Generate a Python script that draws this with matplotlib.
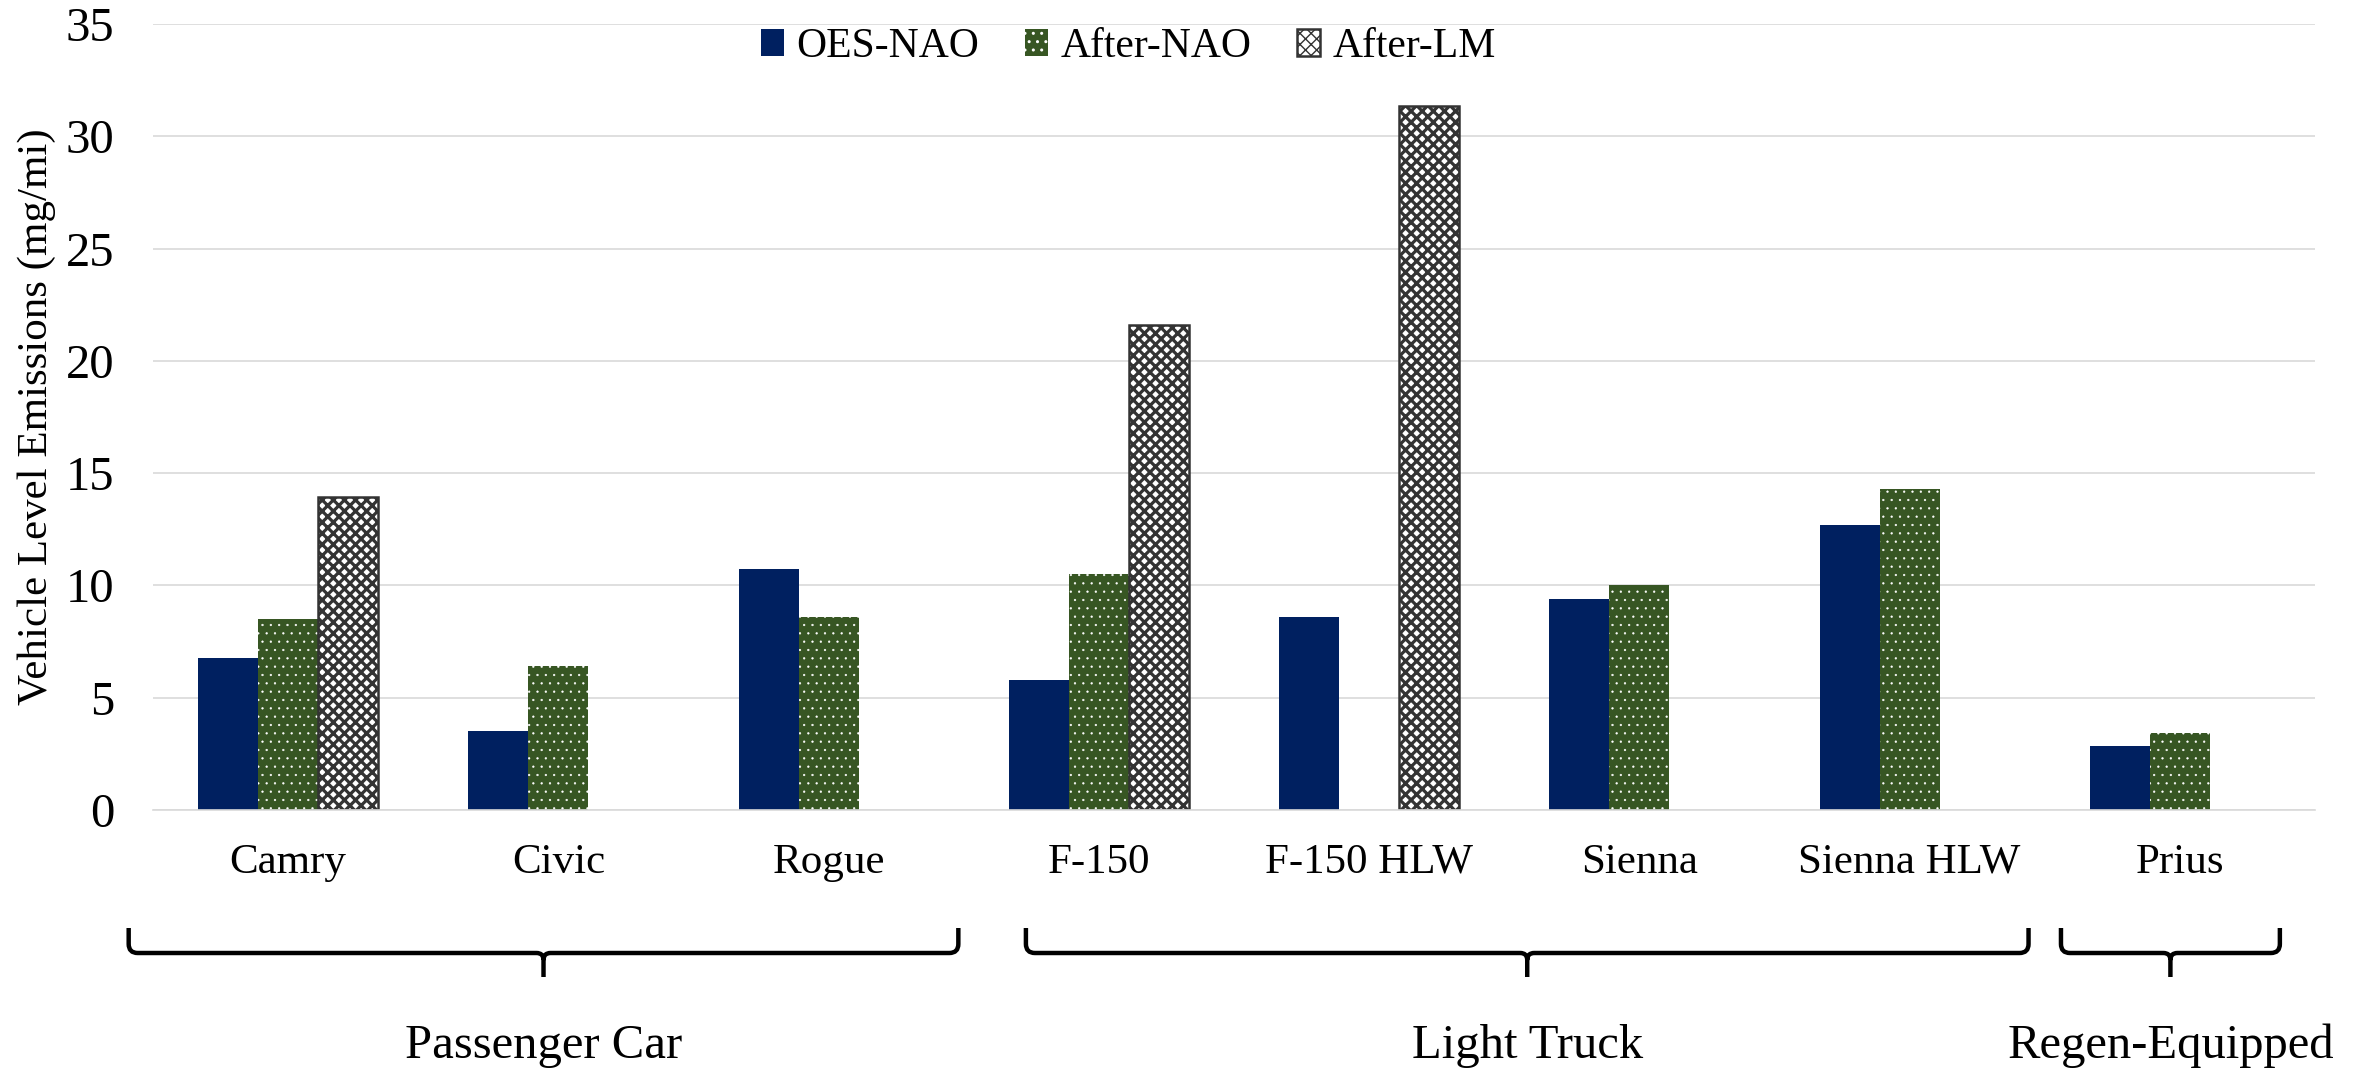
import numpy as np
import matplotlib
matplotlib.use("Agg")
import matplotlib.pyplot as plt
from matplotlib.path import Path
from matplotlib.patches import PathPatch
import matplotlib.transforms as mtransforms

# ---------------- data ----------------
categories = ["Camry", "Civic", "Rogue", "F-150", "F-150 HLW", "Sienna", "Sienna HLW", "Prius"]
oes_nao = [6.78, 3.53, 10.72, 5.77, 8.58, 9.40, 12.68, 2.87]
after_nao = [8.49, 6.41, 8.61, 10.51, np.nan, 10.02, 14.30, 3.44]
after_lm = [13.95, np.nan, np.nan, 21.60, 31.34, np.nan, np.nan, np.nan]
series_names = ["OES-NAO", "After-NAO", "After-LM"]
y_ticks = [0, 5, 10, 15, 20, 25, 30, 35]
y_label = "Vehicle Level Emissions (mg/mi)"
group_names = ["Passenger Car", "Light Truck", "Regen-Equipped"]
group_spans = [(-0.59, 2.48), (2.73, 6.44), (6.56, 7.37)]

# ---------------- style ----------------
plt.rcParams["font.family"] = ["Liberation Serif", "DejaVu Serif"]
plt.rcParams["hatch.linewidth"] = 1.0

W, H = 2356, 1069
fig = plt.figure(figsize=(W / 100, H / 100), dpi=100)
ax_left, ax_right, ax_top, ax_bottom = 153, 2315, 24, 810
fig.subplots_adjust(left=ax_left / W, right=ax_right / W,
                    bottom=1 - ax_bottom / H, top=1 - ax_top / H)
ax = fig.add_subplot(111)

x = np.arange(len(categories))
w = 1 / 4.5  # Excel gap width 150 %

b1 = ax.bar(x - w, oes_nao, w, color="#002060", linewidth=0, zorder=2)
b2 = ax.bar(x, after_nao, w, color="#375623", edgecolor="white", hatch="..",
            linewidth=0, zorder=2)
b3 = ax.bar(x + w, after_lm, w, color="white", edgecolor="#333333", hatch="xxx",
            linewidth=1.8, zorder=2)
for p in b2.patches:
    if hasattr(p, "set_hatch_linewidth"):
        p.set_hatch_linewidth(0.4)
for p in b3.patches:
    if hasattr(p, "set_hatch_linewidth"):
        p.set_hatch_linewidth(2.3)

ax.set_xlim(-0.5, len(categories) - 0.5)
ax.set_ylim(0, 35)
ax.set_yticks(y_ticks)
ax.set_xticks(x)
ax.set_xticklabels(categories, fontsize=31)
ax.tick_params(axis="y", labelsize=35, length=0, pad=28)
ax.tick_params(axis="x", length=0, pad=24)

ax.yaxis.grid(True, color="#d9d9d9", linewidth=1.2)
ax.set_axisbelow(True)
for s in ["top", "left", "right"]:
    ax.spines[s].set_visible(False)
ax.spines["bottom"].set_color("#d9d9d9")
ax.spines["bottom"].set_linewidth(1.2)

ax.set_ylabel(y_label, fontsize=31, va="center")
ax.yaxis.set_label_coords((37 - ax_left) / (ax_right - ax_left), 0.5)

# legend
leg = ax.legend([b1, b2, b3], series_names, loc="center",
                bbox_to_anchor=(0.479, 0.956), bbox_transform=fig.transFigure,
                ncol=3, frameon=False, fontsize=30, handlelength=0.55,
                handleheight=0.6, handletextpad=0.3, columnspacing=1.1)

# ---------------- braces and group labels ----------------
trans = mtransforms.blended_transform_factory(ax.transData, ax.transAxes)
px_x = (len(categories)) / (ax_right - ax_left)   # data units per pixel
px_y = 1.0 / (ax_bottom - ax_top)                  # axes units per pixel
y_top = -(928 - ax_bottom) * px_y
y_h = -(953 - ax_bottom) * px_y
y_tip = -(977 - ax_bottom) * px_y
y_text = -(1058 - ax_bottom) * px_y
rx, ry = 9 * px_x, 9 * px_y
tx, ty = 7 * px_x, 7 * px_y

for name, (x0, x1) in zip(group_names, group_spans):
    xc = (x0 + x1) / 2
    verts = [(x0, y_top), (x0, y_h + ry), (x0, y_h), (x0 + rx, y_h),
             (xc - tx, y_h), (xc, y_h), (xc, y_h - ty), (xc, y_tip),
             (xc, y_h - ty), (xc, y_h), (xc + tx, y_h),
             (x1 - rx, y_h), (x1, y_h), (x1, y_h + ry), (x1, y_top)]
    codes = [Path.MOVETO, Path.LINETO, Path.CURVE3, Path.CURVE3,
             Path.LINETO, Path.CURVE3, Path.CURVE3, Path.LINETO,
             Path.MOVETO, Path.CURVE3, Path.CURVE3,
             Path.LINETO, Path.CURVE3, Path.CURVE3, Path.LINETO]
    ax.add_patch(PathPatch(Path(verts, codes), transform=trans, fill=False,
                           edgecolor="black", linewidth=3.2, clip_on=False,
                           capstyle="butt", joinstyle="round"))
    ax.text(xc, y_text, name, transform=trans, ha="center", va="baseline",
            fontsize=35, clip_on=False)

fig.savefig("out.png", dpi=100, facecolor="white")
